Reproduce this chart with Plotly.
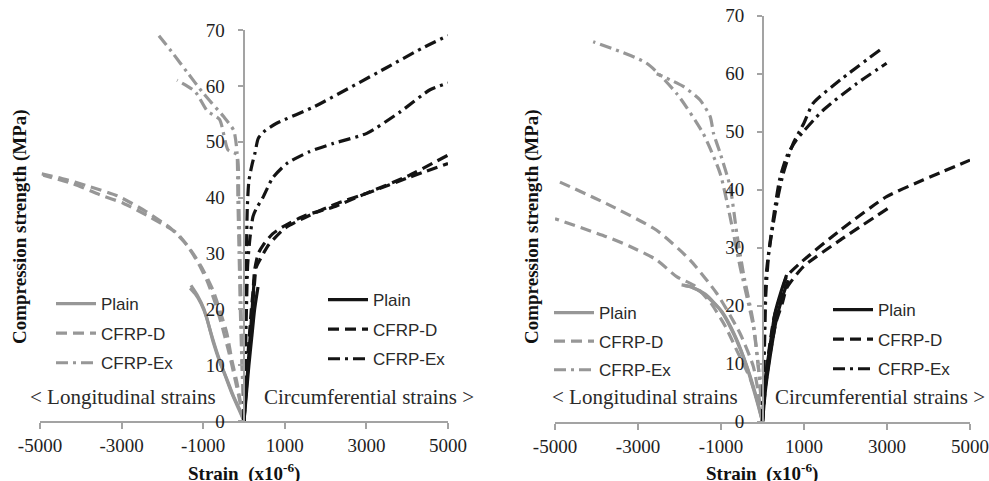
import plotly.graph_objects as go

# ---------------- data (strain x10^-6, stress MPa) ----------------
# Left panel - longitudinal (gray)
A_plain_L1_x = [0, -100, -262, -420, -590, -750, -915, -1050, -1200, -1320]
A_plain_L1_y = [0, 2, 4.5, 7.5, 10.5, 14, 18.5, 21, 22.8, 23.8]
A_plain_L2_x = [0, -120, -300, -480, -650, -820, -980, -1150, -1300]
A_plain_L2_y = [0, 2, 5, 8.5, 12, 16, 20, 22.6, 24.3]
A_D_L1_x = [0, -80, -170, -300, -420, -600, -760, -1000, -1250, -1640, -2300, -2960, -3530, -4200, -4920]
A_D_L1_y = [0, 3, 6.8, 11, 15.7, 20, 23.4, 27, 30, 33.6, 36.5, 39, 40.5, 42.5, 44]
A_D_L2_x = [0, -100, -220, -360, -520, -700, -900, -1100, -1400, -1800, -2400, -3100, -3800, -4500, -5000]
A_D_L2_y = [0, 3.5, 7.5, 12, 16.5, 21, 25, 28, 31.5, 34.5, 37.5, 40.3, 42, 43.5, 44.3]
A_Ex_L1_x = [0, -50, -90, -120, -150, -170, -250, -500, -800, -1000, -1400, -1740, -2130]
A_Ex_L1_y = [0, 10, 20, 30, 40, 48, 52, 54.5, 57, 58.7, 62.5, 65.8, 69.4]
A_Ex_L2_x = [0, -40, -70, -100, -130, -180, -390, -600, -900, -1200, -1640]
A_Ex_L2_y = [0, 10, 20, 30, 40, 47.7, 48.5, 54, 55.5, 59, 61]
# Left panel - circumferential (black)
A_plain_C1_x = [0, 50, 100, 150, 200, 250]
A_plain_C1_y = [0, 5, 10, 15, 20, 25.3]
A_plain_C2_x = [0, 60, 120, 190, 260, 343]
A_plain_C2_y = [0, 5, 10, 15, 20, 24]
A_D_C1_x = [0, 30, 74, 130, 180, 220, 260, 350, 470, 700, 960, 1500, 2190, 3010, 4000, 5000]
A_D_C1_y = [0, 5, 9.7, 15, 20, 23, 27, 30, 31.5, 33.5, 34.8, 36.8, 38.3, 40.8, 43.8, 47.6]
A_D_C2_x = [0, 40, 90, 140, 200, 250, 300, 440, 600, 1000, 1600, 2300, 3100, 4000, 5000]
A_D_C2_y = [0, 5, 10, 15, 20, 24, 27.5, 29.5, 31.5, 34.5, 36.8, 39, 41, 43.5, 46.1]
A_Ex_C1_x = [0, 20, 40, 60, 80, 120, 200, 270, 350, 520, 800, 1700, 3480, 4355, 5000]
A_Ex_C1_y = [0, 10, 20, 30, 38, 43, 46, 48, 50.6, 52, 53.3, 56.2, 63.2, 66.7, 69]
A_Ex_C2_x = [0, 30, 60, 90, 150, 220, 300, 470, 700, 1050, 1600, 2190, 3010, 3820, 4560, 5000]
A_Ex_C2_y = [0, 10, 20, 28, 33, 36.6, 38, 40.1, 43.5, 46.1, 48.2, 49.7, 51.5, 55.3, 59.3, 60.5]

# Right panel - longitudinal (gray)
B_plain_L1_x = [0, -140, -380, -700, -1020, -1430, -1750, -1950]
B_plain_L1_y = [0, 3.7, 9.5, 15.2, 19.3, 22.1, 23.3, 23.6]
B_plain_L2_x = [0, -120, -350, -660, -980, -1380, -1700, -1900]
B_plain_L2_y = [0, 3.5, 9, 14.8, 19, 22, 23.2, 23.5]
B_D_L1_x = [0, -80, -220, -540, -1100, -1750, -2550, -3760, -5000]
B_D_L1_y = [0, 4, 9.5, 15.2, 22.1, 27.9, 33, 37.6, 41.7]
B_D_L2_x = [0, -100, -300, -600, -900, -1250, -1650, -2070, -2550, -3190, -3760, -5000]
B_D_L2_y = [0, 3, 7.5, 12, 16.5, 20.5, 23.5, 25, 27.9, 30.2, 31.9, 35]
B_Ex_L1_x = [0, -60, -220, -540, -780, -1020, -1430, -2070, -2790, -4080]
B_Ex_L1_y = [0, 6.6, 16.4, 26.7, 35.3, 42.8, 49.7, 56.6, 61.8, 65.5]
B_Ex_L2_x = [0, -80, -220, -460, -620, -780, -1020, -1180, -1260, -1510, -1910, -2550]
B_Ex_L2_y = [0, 8, 17, 25.6, 32.5, 40.5, 46.3, 49.7, 52.6, 55.5, 57.8, 60]
# Right panel - circumferential (black)
B_plain_C1_x = [0, 60, 180, 300, 450, 580]
B_plain_C1_y = [0, 7, 13, 18.7, 22.5, 25.3]
B_plain_C2_x = [0, 80, 200, 330, 480, 620]
B_plain_C2_y = [0, 6, 12, 17.5, 21.5, 24.4]
B_D_C1_x = [0, 50, 150, 280, 450, 580, 900, 1870, 2990, 3880, 5000]
B_D_C1_y = [0, 6, 12, 18, 22, 25, 27.3, 33, 38.8, 41.7, 45.1]
B_D_C2_x = [0, 70, 190, 320, 480, 580, 980, 1870, 3070]
B_D_C2_y = [0, 6, 12, 17, 20.5, 23, 26.7, 31.3, 37]
B_Ex_C1_x = [0, 20, 40, 60, 135, 260, 380, 500, 740, 1000, 1220, 1870, 2830]
B_Ex_C1_y = [0, 8, 15, 23, 28.4, 34.2, 39, 42.8, 48, 51.5, 54.9, 58.9, 64.1]
B_Ex_C2_x = [0, 30, 55, 80, 150, 280, 420, 600, 820, 1460, 2270, 2990]
B_Ex_C2_y = [0, 8, 15, 22, 29, 36, 42, 46, 48.6, 53.7, 58.3, 61.8]

x_ticks = [-5000, -3000, -1000, 1000, 3000, 5000]
y_ticks = [0, 10, 20, 30, 40, 50, 60, 70]
names = ["Plain", "CFRP-D", "CFRP-Ex"]

GRAY = "#979797"
BLACK = "#141414"
DASHES = {"Plain": "solid", "CFRP-D": "11px,6px", "CFRP-Ex": "12px,5px,3px,5px"}

fig = go.Figure()

def add(xs, ys, name, color, xa, ya, legend, show):
    fig.add_trace(go.Scatter(
        x=xs, y=ys, mode="lines", name=name,
        line=dict(color=color, width=3.2, dash=DASHES[name], shape="spline", smoothing=0.6),
        xaxis=xa, yaxis=ya, legend=legend, legendgroup=legend + name,
        showlegend=show, hoverinfo="skip"))

panels = [
    ("x", "y", "legend", "legend2", [
        (A_plain_L1_x, A_plain_L1_y, A_plain_L2_x, A_plain_L2_y),
        (A_D_L1_x, A_D_L1_y, A_D_L2_x, A_D_L2_y),
        (A_Ex_L1_x, A_Ex_L1_y, A_Ex_L2_x, A_Ex_L2_y)],
     [
        (A_plain_C1_x, A_plain_C1_y, A_plain_C2_x, A_plain_C2_y),
        (A_D_C1_x, A_D_C1_y, A_D_C2_x, A_D_C2_y),
        (A_Ex_C1_x, A_Ex_C1_y, A_Ex_C2_x, A_Ex_C2_y)]),
    ("x2", "y2", "legend3", "legend4", [
        (B_plain_L1_x, B_plain_L1_y, B_plain_L2_x, B_plain_L2_y),
        (B_D_L1_x, B_D_L1_y, B_D_L2_x, B_D_L2_y),
        (B_Ex_L1_x, B_Ex_L1_y, B_Ex_L2_x, B_Ex_L2_y)],
     [
        (B_plain_C1_x, B_plain_C1_y, B_plain_C2_x, B_plain_C2_y),
        (B_D_C1_x, B_D_C1_y, B_D_C2_x, B_D_C2_y),
        (B_Ex_C1_x, B_Ex_C1_y, B_Ex_C2_x, B_Ex_C2_y)]),
]

for xa, ya, lg_gray, lg_black, longi, circ in panels:
    for name, (x1, y1, x2, y2) in zip(names, longi):
        add(x1, y1, name, GRAY, xa, ya, lg_gray, True)
        add(x2, y2, name, GRAY, xa, ya, lg_gray, False)
    for name, (x1, y1, x2, y2) in zip(names, circ):
        add(x1, y1, name, BLACK, xa, ya, lg_black, True)
        add(x2, y2, name, BLACK, xa, ya, lg_black, False)

AXC = "#a3a3a3"
SERIF = "Liberation Serif"
tickfont = dict(family=SERIF, size=19, color="#1e1e1e")

def xaxis(domain, anchor):
    return dict(domain=domain, range=[-5000, 5000], anchor=anchor, tickvals=x_ticks,
                ticktext=[str(v) for v in x_ticks], showline=True, linecolor=AXC, linewidth=2,
                ticks="outside", ticklen=6, tickcolor=AXC, tickwidth=2, showgrid=False,
                zeroline=False, tickfont=tickfont, fixedrange=True, automargin=False,
                ticklabelstandoff=0)

def yaxis(domain, pos, suffix):
    return dict(domain=domain, range=[0, 70], anchor="free", position=pos, tickvals=y_ticks,
                ticktext=[str(v) + suffix for v in y_ticks],
                showline=True, linecolor=AXC, linewidth=2, ticks="outside", ticklen=5,
                tickcolor=AXC, tickwidth=2, showgrid=False, zeroline=False,
                tickfont=tickfont, fixedrange=True, automargin=False)

W, H = 989, 481
leg_font = dict(family="Liberation Sans", size=17, color="#2a2a2a")

def legend(x_px, y_px, gap):
    return dict(x=x_px / W, y=1 - y_px / H, xanchor="left", yanchor="top",
                bgcolor="rgba(0,0,0,0)", font=leg_font, itemwidth=40,
                tracegroupgap=gap, traceorder="grouped")

ann = []
for xc, yc in [(20, 227), (532, 227)]:
    ann.append(dict(x=xc / W, y=1 - yc / H, xref="paper", yref="paper", showarrow=False,
                    xanchor="center", yanchor="middle",
                    text="<b>Compression strength (MPa)</b>", textangle=-90,
                    font=dict(family=SERIF, size=19, color="#111")))
for xc in [244, 762]:
    ann.append(dict(x=xc / W, y=1 - 472 / H, xref="paper", yref="paper", showarrow=False,
                    xanchor="center", yanchor="middle",
                    text="<b>Strain  (x10<sup>-6</sup>)</b>",
                    font=dict(family=SERIF, size=19, color="#111")))
for xl, txt in [(28, "&lt; Longitudinal strains"), (262, "Circumferential strains &gt;"),
                (550, "&lt; Longitudinal strains"), (773, "Circumferential strains &gt;")]:
    ann.append(dict(x=xl / W, y=1 - 397 / H, xref="paper", yref="paper", showarrow=False,
                    xanchor="left", yanchor="middle", text=txt,
                    font=dict(family=SERIF, size=21, color="#2a2a2a")))

fig.update_layout(
    width=W, height=H, margin=dict(l=0, r=0, t=0, b=0, autoexpand=False),
    paper_bgcolor="white", plot_bgcolor="white",
    xaxis=xaxis([40 / W, 448 / W], "y"),
    yaxis=yaxis([1 - 421 / H, 1 - 30 / H], 244 / W, "\u00a0\u00a0"),
    xaxis2=xaxis([555 / W, 970 / W], "y2"),
    yaxis2=yaxis([1 - 421.7 / H, 1 - 15.7 / H], 762.5 / W, "\u00a0\u2009"),
    legend=legend(51, 286, 4.5),
    legend2=legend(323, 282, 4.5),
    legend3=legend(549, 295, 3.5),
    legend4=legend(828, 292, 4.5),
    annotations=ann,
)

fig.write_html("out.html")
